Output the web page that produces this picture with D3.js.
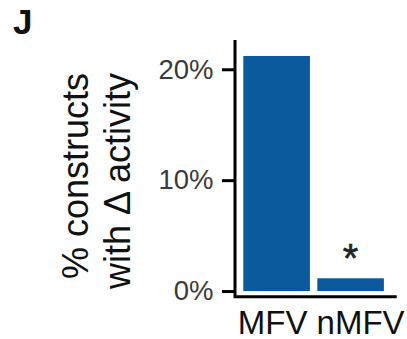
<!DOCTYPE html>
<html>
<head>
<meta charset="utf-8">
<script src="https://cdn.jsdelivr.net/npm/d3@7"></script>
<style>
  html, body { margin: 0; padding: 0; background: #fff; }
  svg { display: block; font-family: "Liberation Sans", Arial, sans-serif; }
</style>
</head>
<body>
<svg id="chart" width="407" height="339"></svg>
<script>
// Share of constructs showing a change in activity
const categories = ["MFV", "nMFV"];
const percentValues = [21.2, 1.15];
const significance = ["", "*"];
const yTicks = [0, 10, 20];
const yTitleLines = ["% constructs", "with \u0394 activity"];
const panelTag = "J";

const svg = d3.select("#chart");

// panel geometry
const axisX = 235, axisY = 296.7, topY = 40, rightX = 396.7;

const y = d3.scaleLinear()
  .domain([-0.51, 22.64])
  .range([axisY, topY]);

const x = d3.scaleBand()
  .domain(categories)
  .range([235.9, 391.3])
  .paddingInner(0.1)
  .paddingOuter(0.1);

const barColor = "#0b5a9e";

// bars
svg.append("g")
  .selectAll("rect")
  .data(categories)
  .join("rect")
  .attr("x", d => x(d))
  .attr("width", x.bandwidth())
  .attr("y", (d, i) => y(percentValues[i]))
  .attr("height", (d, i) => y(0) - y(percentValues[i]))
  .attr("fill", barColor);

// significance marks
svg.append("g")
  .selectAll("text")
  .data(categories)
  .join("text")
  .attr("x", d => x(d) + x.bandwidth() / 2)
  .attr("y", (d, i) => y(percentValues[i]) - 6)
  .attr("text-anchor", "middle")
  .attr("font-size", 40)
  .attr("fill", "#222")
  .attr("stroke", "#222")
  .attr("stroke-width", 0.6)
  .text((d, i) => significance[i]);

// y axis
const yAxis = d3.axisLeft(y)
  .tickValues(yTicks)
  .tickFormat(d => d + "%")
  .tickSize(13)
  .tickSizeOuter(0)
  .tickPadding(8.5);

const gy = svg.append("g")
  .attr("transform", `translate(${axisX},0)`)
  .call(yAxis);
gy.select(".domain").remove();
gy.selectAll(".tick line").attr("stroke", "#000").attr("stroke-width", 3);
gy.selectAll(".tick text")
  .attr("font-size", 27.5)
  .attr("font-family", "Liberation Sans, Arial, sans-serif")
  .attr("fill", "#3a3a3a");

// axis lines (L shape)
svg.append("path")
  .attr("d", `M${axisX},${topY}V${axisY}H${rightX}`)
  .attr("fill", "none")
  .attr("stroke", "#000")
  .attr("stroke-width", 3)
  .attr("stroke-linejoin", "miter");

// category labels
const labelShift = { MFV: -4, nMFV: 10 };
svg.append("g")
  .selectAll("text")
  .data(categories)
  .join("text")
  .attr("x", d => x(d) + x.bandwidth() / 2 + labelShift[d])
  .attr("y", 333.5)
  .attr("text-anchor", "middle")
  .attr("font-size", 33)
  .attr("fill", "#111")
  .text(d => d);

// y title, two rotated lines
const titleBaselines = [87.5, 130];
svg.append("g")
  .selectAll("text")
  .data(yTitleLines)
  .join("text")
  .attr("transform", (d, i) => `translate(${titleBaselines[i]},73) rotate(-90)`)
  .attr("text-anchor", "end")
  .attr("font-size", 36)
  .attr("fill", "#111")
  .text(d => d);

// panel tag
svg.append("text")
  .attr("x", 13)
  .attr("y", 33.5)
  .attr("font-size", 35)
  .attr("font-weight", "bold")
  .attr("fill", "#111")
  .text(panelTag);
</script>
</body>
</html>
